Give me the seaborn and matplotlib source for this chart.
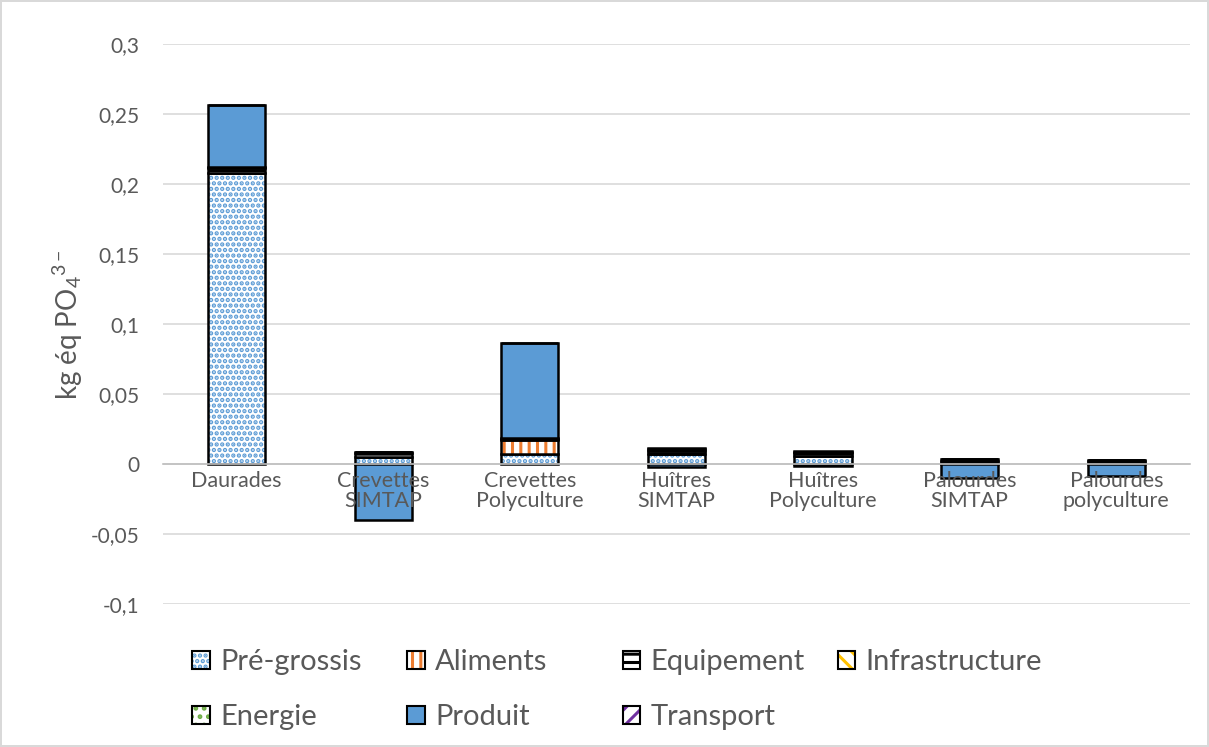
import numpy as np
import pandas as pd
import matplotlib
matplotlib.use("Agg")
import matplotlib.pyplot as plt
from matplotlib.patches import Patch
import seaborn as sns

categories = ["Daurades", "Crevettes\nSIMTAP", "Crevettes\nPolyculture", "Huîtres\nSIMTAP",
              "Huîtres\nPolyculture", "Palourdes\nSIMTAP", "Palourdes\npolyculture"]
pre_grossis    = [0.208, 0.0050, 0.0070, 0.0070, 0.0060, 0.0000, 0.0000]
aliments       = [0.000, 0.0000, 0.0100, 0.0000, 0.0000, 0.0000, 0.0000]
equipement     = [0.0035, 0.0030, 0.0010, 0.0025, 0.0020, 0.0020, 0.0020]
infrastructure = [0.0005, 0.0005, 0.0003, 0.0015, 0.0010, 0.0015, 0.0010]
energie        = [0.0002, 0.0001, 0.0001, 0.0002, 0.0001, 0.0001, 0.0001]
produit        = [0.0440, -0.0400, 0.0680, -0.0020, -0.0010, -0.0100, -0.0085]
transport      = [0.0002, 0.0001, 0.0002, 0.0001, 0.0001, 0.0001, 0.0001]
yticks = [-0.1, -0.05, 0, 0.05, 0.1, 0.15, 0.2, 0.25, 0.3]

series = {
    "Pré-grossis": pre_grossis,
    "Aliments": aliments,
    "Equipement": equipement,
    "Infrastructure": infrastructure,
    "Energie": energie,
    "Produit": produit,
    "Transport": transport,
}
# face colour, hatch colour, hatch pattern
styles = {
    "Pré-grossis":    ("white", "#5B9BD5", "..."),
    "Aliments":       ("white", "#ED7D31", "||"),
    "Equipement":     ("white", "#000000", "--"),
    "Infrastructure": ("white", "#FFC000", "\\\\"),
    "Energie":        ("white", "#70AD47", ".."),
    "Produit":        ("#5B9BD5", "#5B9BD5", None),
    "Transport":      ("white", "#7030A0", "//"),
}

sns.set_theme(style="white")
FONT = ["Lato", "DejaVu Sans"]
plt.rcParams["font.family"] = FONT
plt.rcParams["mathtext.fontset"] = "custom"
plt.rcParams["mathtext.rm"] = "Lato"
plt.rcParams["mathtext.it"] = "Lato"
plt.rcParams["hatch.linewidth"] = 2.2
TXT = "#595959"

fig = plt.figure(figsize=(12.09, 7.47), dpi=100)
fig.patch.set_edgecolor("#D9D9D9")
fig.patch.set_linewidth(1.5)
ax = fig.add_axes([0.135, 0.191, 0.849, 0.750])

width = 0.39
pos_base = np.zeros(len(categories))
neg_base = np.zeros(len(categories))
handles = {}
for name, vals in series.items():
    vals = np.asarray(vals, dtype=float)
    bottoms = np.where(vals >= 0, pos_base, neg_base)
    face, hcol, hatch = styles[name]
    # filled / hatched layer
    sns.barplot(x=categories, y=vals, order=categories, bottom=bottoms, width=width,
                color=face, saturation=1, errorbar=None, ax=ax,
                edgecolor=hcol, linewidth=0, hatch=hatch)
    # black outline
    sns.barplot(x=categories, y=vals, order=categories, bottom=bottoms, width=width,
                color="black", saturation=1, errorbar=None, ax=ax,
                facecolor="none", edgecolor="black", linewidth=1.8)
    pos_base = pos_base + np.where(vals >= 0, vals, 0)
    neg_base = neg_base + np.where(vals < 0, vals, 0)
    handles[name] = (Patch(facecolor=face, edgecolor=hcol, hatch=hatch, linewidth=0),
                     Patch(facecolor="none", edgecolor="black", linewidth=1.5))

ax.set_ylim(-0.1, 0.3)
ax.set_yticks(yticks)
ax.set_yticklabels([f"{t:g}".replace(".", ",") for t in yticks], color=TXT, fontsize=15)
ax.yaxis.grid(True, color="#D9D9D9", linewidth=1.2)
ax.set_axisbelow(True)
ax.xaxis.set_zorder(3)  # category names stay readable over the bars
for s in ["top", "right", "left"]:
    ax.spines[s].set_visible(False)
ax.spines["bottom"].set_position(("data", 0))
ax.spines["bottom"].set_color("#BFBFBF")
ax.spines["bottom"].set_linewidth(1.2)
ax.tick_params(axis="y", length=0, pad=17)
ax.tick_params(axis="x", length=0, pad=5)
for lab in ax.get_xticklabels():
    lab.set_color(TXT)
    lab.set_fontsize(15.5)
    lab.set_linespacing(1.0)
ax.set_xlabel("")
ax.set_ylabel("kg éq PO$_4$$^{3-}$", color=TXT, fontsize=20, labelpad=4)

# legend laid out as four fixed columns
columns = [["Pré-grossis", "Energie"], ["Aliments", "Produit"],
           ["Equipement", "Transport"], ["Infrastructure"]]
col_x = [0.159, 0.337, 0.515, 0.693]
for names, x in zip(columns, col_x):
    leg = fig.legend([handles[n] for n in names], names, loc="upper left",
                     bbox_to_anchor=(x, 0.131), frameon=False, fontsize=21,
                     handlelength=0.6, handleheight=0.6, handletextpad=0.35,
                     labelspacing=1.0, borderpad=0, borderaxespad=0)
    for t in leg.get_texts():
        t.set_color(TXT)

fig.savefig("out.png", dpi=100, edgecolor=fig.get_edgecolor())
